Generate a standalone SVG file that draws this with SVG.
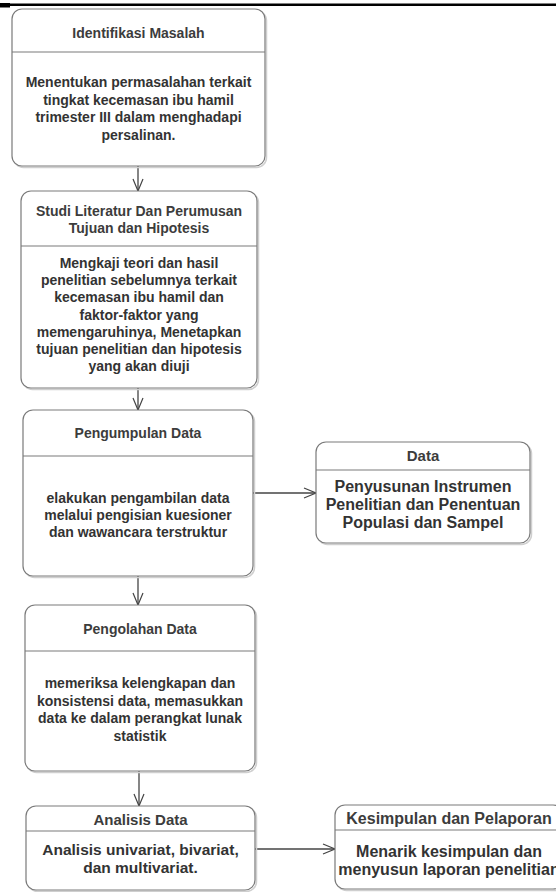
<svg xmlns="http://www.w3.org/2000/svg" width="556" height="892" viewBox="0 0 556 892">
<defs>
<style>
.box{fill:#ffffff;stroke:#7a7a7a;stroke-width:1.2}
.sh{fill:none;stroke:#cfcfcf;stroke-width:1.5}
.div{stroke:#7a7a7a;stroke-width:1.2}
text{font-family:"Liberation Sans",Arial,sans-serif;font-weight:bold;fill:#333333;text-anchor:middle}
.t14{font-size:14px}
.t15{font-size:15px}
.t155{font-size:15.5px}
.t16{font-size:16px}
.ttl{fill:#3c3c3c}
.conn{stroke:#444444;stroke-width:1.3;fill:none}
</style>
<marker id="arr" viewBox="0 0 14 12" refX="13" refY="6" markerWidth="14" markerHeight="12" markerUnits="userSpaceOnUse" orient="auto">
<path d="M1,1 L13,6 L1,11" fill="none" stroke="#444444" stroke-width="1.2"/>
</marker>
</defs>
<rect width="556" height="892" fill="#ffffff"/>
<rect x="0" y="3.5" width="556" height="2.5" fill="#000000"/>
<rect x="0" y="3" width="10" height="4.5" fill="#000000"/>

<g id="connectors">
<line class="conn" x1="138" y1="166" x2="138" y2="191" marker-end="url(#arr)"/>
<line class="conn" x1="138" y1="388" x2="138" y2="410" marker-end="url(#arr)"/>
<line class="conn" x1="253" y1="493" x2="316" y2="493" marker-end="url(#arr)"/>
<line class="conn" x1="138" y1="576" x2="138" y2="605" marker-end="url(#arr)"/>
<line class="conn" x1="139" y1="771" x2="139" y2="806" marker-end="url(#arr)"/>
<line class="conn" x1="255" y1="849" x2="335" y2="849" marker-end="url(#arr)"/>
</g>

<g id="identifikasi">
<rect class="sh" x="13.5" y="10.5" width="253" height="157" rx="10"/>
<rect class="box" x="12" y="9" width="253" height="157" rx="10"/>
<line class="div" x1="12" y1="52" x2="265" y2="52"/>
<text class="t14 ttl" x="138.5" y="38">Identifikasi Masalah</text>
<text class="t14" x="138.5" y="87">Menentukan permasalahan terkait</text>
<text class="t14" x="138.5" y="104.5">tingkat kecemasan ibu hamil</text>
<text class="t14" x="138.5" y="122">trimester III dalam menghadapi</text>
<text class="t14" x="138.5" y="139.5">persalinan.</text>
</g>

<g id="studi">
<rect class="sh" x="22.5" y="192.5" width="236" height="197" rx="10"/>
<rect class="box" x="21" y="191" width="236" height="197" rx="10"/>
<line class="div" x1="21" y1="246" x2="257" y2="246"/>
<text class="t14 ttl" x="139" y="216">Studi Literatur Dan Perumusan</text>
<text class="t14 ttl" x="139" y="232.5">Tujuan dan Hipotesis</text>
<text class="t14" x="139" y="268">Mengkaji teori dan hasil</text>
<text class="t14" x="139" y="285.2">penelitian sebelumnya terkait</text>
<text class="t14" x="139" y="302.4">kecemasan ibu hamil dan</text>
<text class="t14" x="139" y="319.6">faktor-faktor yang</text>
<text class="t14" x="139" y="336.8">memengaruhinya, Menetapkan</text>
<text class="t14" x="139" y="354">tujuan penelitian dan hipotesis</text>
<text class="t14" x="139" y="371.2">yang akan diuji</text>
</g>

<g id="pengumpulan">
<rect class="sh" x="24.5" y="411.5" width="230" height="166" rx="10"/>
<rect class="box" x="23" y="410" width="230" height="166" rx="10"/>
<line class="div" x1="23" y1="456" x2="253" y2="456"/>
<text class="t14 ttl" x="138" y="438">Pengumpulan Data</text>
<text class="t14" x="138" y="503">elakukan pengambilan data</text>
<text class="t14" x="138" y="520">melalui pengisian kuesioner</text>
<text class="t14" x="138" y="537">dan wawancara terstruktur</text>
</g>

<g id="data">
<rect class="sh" x="317.5" y="443.5" width="214" height="101" rx="10"/>
<rect class="box" x="316" y="442" width="214" height="101" rx="10"/>
<line class="div" x1="316" y1="470" x2="530" y2="470"/>
<text class="t15 ttl" x="423" y="460.5">Data</text>
<text class="t16" x="423" y="492">Penyusunan Instrumen</text>
<text class="t16" x="423" y="510">Penelitian dan Penentuan</text>
<text class="t16" x="423" y="528">Populasi dan Sampel</text>
</g>

<g id="pengolahan">
<rect class="sh" x="26.5" y="606.5" width="230" height="166" rx="10"/>
<rect class="box" x="25" y="605" width="230" height="166" rx="10"/>
<line class="div" x1="25" y1="651" x2="255" y2="651"/>
<text class="t14 ttl" x="140" y="634">Pengolahan Data</text>
<text class="t14" x="140" y="688">memeriksa kelengkapan dan</text>
<text class="t14" x="140" y="705.5">konsistensi data, memasukkan</text>
<text class="t14" x="140" y="723">data ke dalam perangkat lunak</text>
<text class="t14" x="140" y="740.5">statistik</text>
</g>

<g id="analisis">
<rect class="sh" x="27.5" y="807.5" width="229" height="84" rx="10"/>
<rect class="box" x="26" y="806" width="229" height="84" rx="10"/>
<line class="div" x1="26" y1="831" x2="255" y2="831"/>
<text class="t15 ttl" x="140.5" y="824.5">Analisis Data</text>
<text class="t155" x="140.5" y="855">Analisis univariat, bivariat,</text>
<text class="t155" x="140.5" y="873">dan multivariat.</text>
</g>

<g id="kesimpulan">
<rect class="sh" x="336.5" y="806.5" width="228" height="84" rx="10"/>
<rect class="box" x="335" y="805" width="228" height="84" rx="10"/>
<line class="div" x1="335" y1="830" x2="563" y2="830"/>
<text class="t16 ttl" x="449" y="823.5">Kesimpulan dan Pelaporan</text>
<text class="t16" x="449" y="857">Menarik kesimpulan dan</text>
<text class="t16" x="449" y="875">menyusun laporan penelitian</text>
</g>
</svg>
